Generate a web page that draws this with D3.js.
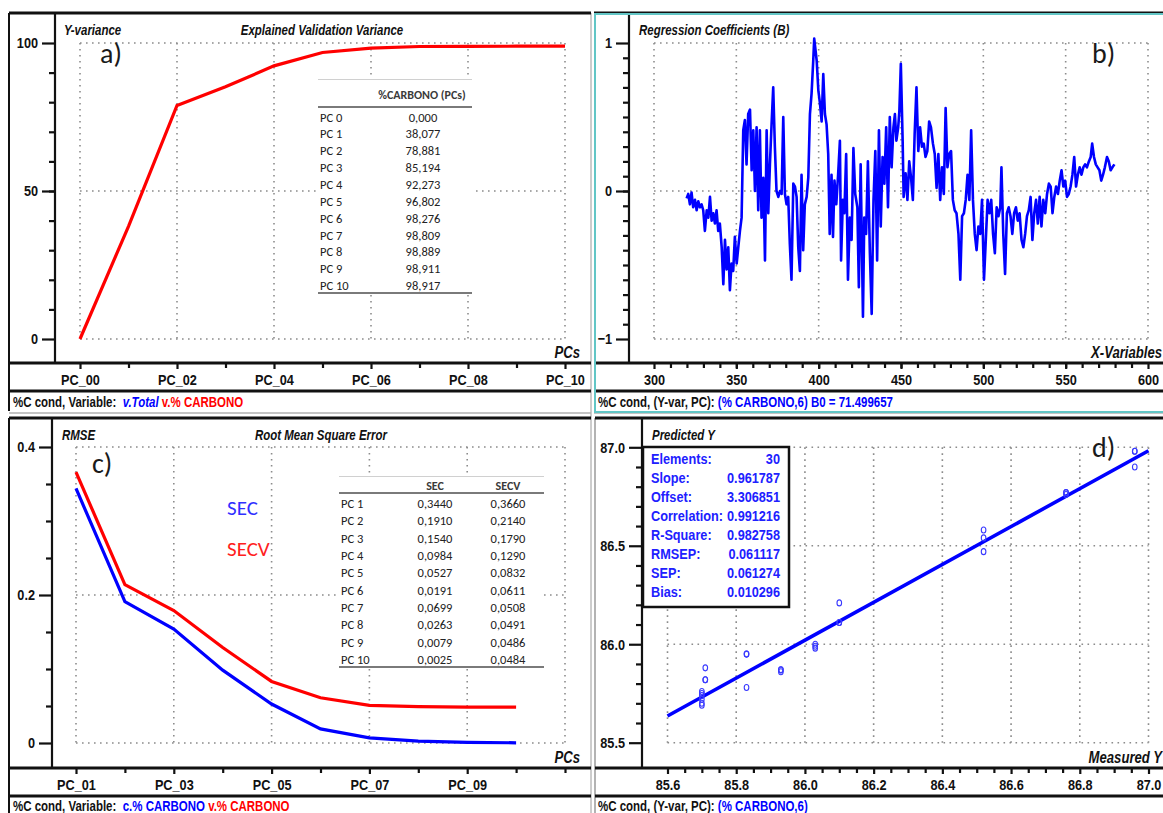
<!DOCTYPE html>
<html lang="en">
<head>
<meta charset="UTF-8" />
<title>PLS model %CARBONO</title>
<script src="https://d3js.org/d3.v7.min.js"></script>
<style>
  body { margin: 0; background: #fff; }
  svg { display: block; }
</style>
</head>
<body>
<script>
// ---- a) explained validation variance ----
var variancePCs = [0, 1, 2, 3, 4, 5, 6, 7, 8, 9, 10];
var varianceValues = [0, 38.077, 78.881, 85.194, 92.273, 96.802, 98.276, 98.809, 98.889, 98.911, 98.917];
var varianceRowLabels = ["PC 0", "PC 1", "PC 2", "PC 3", "PC 4", "PC 5", "PC 6", "PC 7", "PC 8", "PC 9", "PC 10"];
var varianceRowValues = ["0,000", "38,077", "78,881", "85,194", "92,273", "96,802", "98,276", "98,809", "98,889", "98,911", "98,917"];

// ---- b) regression coefficients (wavelength nm, B) ----
var coefWl = [
  319.8, 320.8, 321.8, 322.8, 323.8, 324.9, 325.9, 326.9, 327.9, 328.9,
  329.9, 330.9, 332.0, 333.0, 334.0, 335.0, 336.0, 337.0, 338.0, 339.0,
  340.0, 341.1, 342.1, 343.1, 344.1, 345.1, 346.1, 347.1, 348.1, 349.1,
  350.2, 351.2, 352.2, 353.2, 354.2, 355.2, 356.2, 357.2, 358.3, 359.3,
  360.3, 361.3, 362.3, 363.3, 364.3, 365.3, 366.4, 367.4, 368.4, 369.4,
  370.4, 371.4, 372.4, 373.4, 374.4, 375.5, 376.5, 377.5, 378.5, 379.5,
  380.5, 381.5, 382.5, 383.5, 384.6, 385.6, 386.6, 387.6, 388.6, 389.6,
  390.6, 391.6, 392.7, 393.7, 394.7, 395.7, 396.7, 397.3, 398.8, 399.8,
  400.8, 401.8, 402.8, 403.8, 404.8, 405.8, 406.7, 407.8, 408.7, 409.6,
  410.7, 411.8, 412.9, 413.6, 414.7, 415.6, 416.7, 417.8, 418.9, 420.0,
  421.1, 422.2, 423.5, 424.4, 425.5, 426.9, 427.7, 428.8, 429.9, 431.1,
  432.2, 433.3, 434.4, 435.5, 436.6, 437.7, 438.8, 439.9, 441.0, 442.1,
  443.2, 444.3, 445.4, 446.3, 447.2, 448.3, 449.0, 449.9, 451.0, 451.6,
  452.8, 453.9, 455.0, 456.1, 457.2, 458.3, 459.4, 460.5, 461.6, 462.7,
  463.8, 464.9, 466.0, 467.1, 468.2, 469.4, 470.5, 471.6, 472.7, 473.8,
  474.9, 476.0, 477.1, 478.2, 479.3, 480.4, 481.5, 482.6, 483.7, 484.9,
  486.0, 487.1, 488.2, 489.3, 490.4, 491.5, 492.6, 493.7, 494.8, 495.9,
  497.0, 498.1, 499.2, 500.4, 501.5, 502.6, 503.7, 504.8, 505.9, 507.0,
  508.1, 509.2, 510.3, 511.0, 512.1, 513.2, 514.3, 515.4, 516.5, 517.6,
  518.7, 519.8, 520.9, 522.0, 523.2, 524.3, 525.4, 526.5, 527.6, 528.7,
  529.8, 530.9, 532.0, 533.1, 534.2, 535.3, 536.4, 537.6, 538.7, 539.8,
  540.9, 542.0, 543.1, 544.2, 545.3, 546.4, 547.5, 548.6, 549.7, 550.8,
  551.9, 553.0, 554.1, 555.2, 556.3, 557.4, 558.5, 559.6, 560.7, 561.8,
  562.9, 564.1, 565.2, 566.1, 567.2, 568.3, 569.4, 570.5, 571.6, 572.7,
  573.8, 575.1, 576.2, 577.3, 578.4, 579.6
];
var coefValues = [
  -0.05, -0.02, -0.09, -0.01, -0.11, -0.06, -0.13, -0.07, -0.11, -0.09,
  -0.13, -0.27, -0.13, -0.18, -0.04, -0.20, -0.15, -0.22, -0.13, -0.27,
  -0.22, -0.38, -0.63, -0.33, -0.53, -0.38, -0.67, -0.49, -0.54, -0.31,
  -0.49, -0.38, -0.27, -0.18, 0.41, 0.48, 0.18, 0.52, 0.55, 0.14,
  0.41, 0.00, 0.43, -0.13, 0.41, -0.18, 0.09, -0.47, 0.41, -0.15,
  0.18, 0.45, 0.70, 0.30, 0.00, -0.04, 0.00, -0.02, 0.50, -0.02,
  -0.09, -0.04, -0.36, -0.60, 0.05, 0.03, -0.04, -0.38, -0.54, 0.11,
  -0.40, -0.09, -0.04, 0.09, 0.52, 0.66, 0.88, 1.03, 0.88, 0.68,
  0.59, 0.47, 0.79, 0.52, 0.45, 0.25, -0.29, 0.11, -0.31, 0.07,
  -0.09, 0.11, 0.34, -0.47, -0.06, -0.15, 0.25, -0.60, -0.18, -0.33,
  0.29, -0.02, -0.11, -0.65, 0.18, -0.85, -0.18, -0.29, 0.20, -0.42,
  -0.83, -0.06, 0.27, -0.47, 0.41, -0.24, 0.23, 0.05, 0.43, -0.11,
  0.50, 0.16, 0.43, 0.52, 0.34, 0.43, 0.54, 0.86, 0.34, -0.04,
  0.12, -0.06, 0.20, 0.09, -0.06, 0.39, 0.70, 0.27, 0.43, 0.30,
  0.32, 0.23, 0.27, 0.47, 0.43, 0.32, 0.25, 0.02, 0.25, -0.06,
  0.16, -0.02, 0.56, 0.16, 0.25, 0.27, -0.06, -0.13, -0.15, -0.29,
  -0.60, -0.17, -0.15, -0.06, 0.11, -0.06, 0.41, -0.06, -0.29, -0.40,
  -0.24, -0.29, -0.06, -0.60, -0.33, -0.06, -0.15, -0.06, -0.29, -0.42,
  -0.11, -0.17, -0.11, 0.16, -0.29, -0.56, -0.15, -0.11, -0.17, -0.29,
  -0.15, -0.11, -0.20, -0.15, -0.33, -0.38, -0.29, -0.17, -0.13, -0.04,
  -0.33, -0.15, -0.06, -0.22, -0.04, -0.24, -0.06, -0.15, -0.02, 0.05,
  0.03, -0.15, -0.04, 0.03, -0.02, 0.07, 0.14, 0.03, 0.07, -0.04,
  -0.02, 0.03, 0.11, 0.23, 0.03, 0.11, 0.16, 0.11, 0.16, 0.18,
  0.16, 0.20, 0.23, 0.32, 0.23, 0.18, 0.16, 0.14, 0.07, 0.11,
  0.16, 0.23, 0.20, 0.14, 0.16, 0.18
];

// ---- c) RMSE ----
var rmsePCs = [1, 2, 3, 4, 5, 6, 7, 8, 9, 10];
var secValues = [0.344, 0.191, 0.154, 0.0984, 0.0527, 0.0191, 0.0069, 0.0026, 0.0008, 0.0003];
var secvValues = [0.366, 0.214, 0.179, 0.129, 0.0832, 0.0611, 0.0508, 0.0491, 0.0486, 0.0484];
var rmseRowLabels = ["PC 1", "PC 2", "PC 3", "PC 4", "PC 5", "PC 6", "PC 7", "PC 8", "PC 9", "PC 10"];
var secRowValues = ["0,3440", "0,1910", "0,1540", "0,0984", "0,0527", "0,0191", "0,0699", "0,0263", "0,0079", "0,0025"];
var secvRowValues = ["0,3660", "0,2140", "0,1790", "0,1290", "0,0832", "0,0611", "0,0508", "0,0491", "0,0486", "0,0484"];

// ---- d) predicted vs measured ----
var measuredY = [85.70, 85.70, 85.70, 85.70, 85.70, 85.70, 85.71, 85.71, 85.71,
  85.83, 85.83, 85.83, 85.93, 85.93, 85.93, 86.03, 86.03, 86.03,
  86.10, 86.10, 86.10, 86.52, 86.52, 86.52, 86.76, 86.76, 86.76, 86.96, 86.96, 86.96];
var predictedY = [85.76, 85.74, 85.69, 85.72, 85.70, 85.75, 85.88, 85.82, 85.82,
  85.95, 85.78, 85.95, 85.87, 85.86, 85.87, 86.00, 85.98, 85.99,
  86.21, 86.11, 86.11, 86.58, 86.54, 86.47, 86.77, 86.76, 86.77, 86.98, 86.90, 86.98];
var statLabels = ["Elements:", "Slope:", "Offset:", "Correlation:", "R-Square:", "RMSEP:", "SEP:", "Bias:"];
var statValues = ["30", "0.961787", "3.306851", "0.991216", "0.982758", "0.061117", "0.061274", "0.010296"];
var fitSlope = 0.961787, fitOffset = 3.306851;

var w = 1163, h = 813;
// Arial Narrow look-alike: Liberation Sans squeezed horizontally
var NARROW = '"Liberation Sans", Arial, sans-serif';
var SQ = 0.82;
var CAL = 'Carlito, Calibri, Lato, "Open Sans", sans-serif';
var BLUE = "#0000ff", RED = "#ff0000", TEAL = "#62c6c6";

var svg = d3.select("body").append("svg")
    .attr("width", w)
    .attr("height", h);

function line(g, x1, y1, x2, y2, col, sw) {
    return g.append("line")
        .attr("x1", x1).attr("y1", y1).attr("x2", x2).attr("y2", y2)
        .attr("stroke", col).attr("stroke-width", sw);
}

function squeeze(t, x) {
    t.attr("x", x / SQ).attr("transform", "scale(" + SQ + ",1)");
}

function txt(g, x, y, s, size, opts) {
    opts = opts || {};
    var t = g.append("text")
        .attr("x", x).attr("y", y)
        .attr("font-family", opts.family || NARROW)
        .attr("font-size", size)
        .attr("font-weight", opts.weight || "bold")
        .attr("font-style", opts.italic ? "italic" : "normal")
        .attr("text-anchor", opts.anchor || "start")
        .attr("fill", opts.fill || "#111")
        .text(s);
    if (!opts.family) squeeze(t, x);
    return t;
}

// common pieces of one plot window
function drawPanel(p) {
    var g = svg.append("g");
    var xd = p.x.domain(), yd = p.y.domain();

    // dotted grid
    p.gridX.forEach(function(v) {
        line(g, p.x(v), p.y(yd[1]), p.x(v), p.y(yd[0]), "#8c8c8c", 1.6)
            .attr("stroke-dasharray", "1.6,4.4");
    });
    p.gridY.forEach(function(v) {
        line(g, p.x(xd[0]), p.y(v), p.x(xd[1]), p.y(v), "#8c8c8c", 1.6)
            .attr("stroke-dasharray", "1.6,4.4");
    });

    // y axis, major + minor ticks
    var yMaj = g.append("g").attr("transform", "translate(" + p.axisX + ",0)")
        .call(d3.axisLeft(p.y).tickValues(p.yMajor).tickSize(13).tickPadding(4).tickFormat(p.yFmt));
    var yMin = g.append("g").attr("transform", "translate(" + p.axisX + ",0)")
        .call(d3.axisLeft(p.y).tickValues(p.yMinor).tickSize(6).tickFormat(""));

    // x axis in the band under the plot
    var xMaj = g.append("g").attr("transform", "translate(0," + p.plotBottom + ")")
        .call(d3.axisBottom(p.x).tickValues(p.xMajor).tickSize(6).tickPadding(5).tickFormat(p.xFmt));
    var xMin = g.append("g").attr("transform", "translate(0," + p.plotBottom + ")")
        .call(d3.axisBottom(p.x).tickValues(p.xMinor).tickSize(5).tickFormat(""));

    [yMaj, yMin, xMaj, xMin].forEach(function(a) {
        a.select(".domain").remove();
        a.selectAll(".tick line").attr("stroke", "#111").attr("stroke-width", 2.2);
        a.selectAll("text")
            .attr("font-family", NARROW)
            .attr("font-weight", "bold")
            .attr("font-size", 15.5)
            .attr("fill", "#111")
            .each(function() {
                var t = d3.select(this);
                squeeze(t, +t.attr("x") || 0);
            });
    });

    // frame lines
    line(g, p.left, p.top, p.right, p.top, "#111", 3);
    line(g, p.axisX, p.top, p.axisX, p.plotBottom, "#111", 2.2);
    line(g, p.left, p.plotBottom, p.right, p.plotBottom, "#111", 3);
    line(g, p.left, p.bandBottom, p.right, p.bandBottom, "#111", 3);
    return g;
}

function footer(g, x, y, parts) {
    var t = g.append("text")
        .attr("y", y)
        .attr("font-family", NARROW)
        .attr("font-weight", "bold")
        .attr("font-size", 14);
    squeeze(t, x);
    parts.forEach(function(pt) {
        t.append("tspan")
            .attr("fill", pt[1])
            .attr("font-style", pt[2] ? "italic" : "normal")
            .attr("xml:space", "preserve")
            .text(pt[0]);
    });
}

// outer separators
var bg = svg.append("g");
line(bg, 591, 13, 591, 813, "#9a9a9a", 1);
line(bg, 9, 413, 591, 413, "#b0b0b0", 1.5);
line(bg, 594, 413, 1163, 413, "#b0b0b0", 1.5);
line(bg, 9, 13, 9, 411, "#111", 2);
line(bg, 9, 418, 9, 813, "#111", 2);
line(bg, 595, 418, 595, 813, "#9a9a9a", 1.5);

// ================= a) =================
var pa = {
    left: 9, right: 591, top: 13, plotBottom: 363, bandBottom: 391, axisX: 55,
    x: d3.scaleLinear().domain([0, 10]).range([80, 565]),
    y: d3.scaleLinear().domain([0, 100]).range([339, 43]),
    gridX: [0, 2, 4, 6, 8, 10], gridY: [0, 50, 100],
    xMajor: [0, 2, 4, 6, 8, 10], xMinor: [1, 3, 5, 7, 9],
    yMajor: [0, 50, 100], yMinor: d3.range(10, 100, 10),
    xFmt: function(d) { return "PC_" + d3.format("02d")(d); },
    yFmt: d3.format("d")
};
var ga = drawPanel(pa);

ga.append("path")
    .datum(variancePCs.map(function(d, i) { return [d, varianceValues[i]]; }))
    .attr("fill", "none")
    .attr("stroke", RED)
    .attr("stroke-width", 3.2)
    .attr("d", d3.line().x(function(d) { return pa.x(d[0]); }).y(function(d) { return pa.y(d[1]); }));

txt(ga, 64, 35, "Y-variance", 14, {italic: true});
txt(ga, 322, 35, "Explained Validation Variance", 14, {italic: true, anchor: "middle"});
txt(ga, 100, 63, "a)", 28, {family: CAL, weight: "normal", fill: "#1a1a1a"});
txt(ga, 580, 358, "PCs", 16, {italic: true, anchor: "end"});
footer(ga, 13, 407, [["%C cond, Variable:  ", "#111"], ["v.Total", BLUE, true], [" v.% CARBONO", RED]]);

// table a
var ta = ga.append("g");
ta.append("rect").attr("x", 318).attr("y", 79).attr("width", 154).attr("height", 214).attr("fill", "#fff");
line(ta, 318, 79.5, 472, 79.5, "#d0d0d0", 1);
line(ta, 318, 107, 472, 107, "#7a7a7a", 2);
line(ta, 318, 293, 472, 293, "#7a7a7a", 2);
txt(ta, 422, 99, "%CARBONO (PCs)", 12, {family: CAL, weight: "bold", anchor: "middle", fill: "#3a3a3a"});
ta.selectAll(".rl").data(varianceRowLabels).enter().append("text")
    .attr("x", 320)
    .attr("y", function(d, i) { return 121.5 + i * 16.86; })
    .attr("font-family", CAL).attr("font-size", 12.5).attr("fill", "#222")
    .text(function(d) { return d; });
ta.selectAll(".rv").data(varianceRowValues).enter().append("text")
    .attr("x", 423)
    .attr("y", function(d, i) { return 121.5 + i * 16.86; })
    .attr("text-anchor", "middle")
    .attr("font-family", CAL).attr("font-size", 12.5).attr("fill", "#222")
    .text(function(d) { return d; });

// ================= b) =================
var pb = {
    left: 594, right: 1163, top: 13, plotBottom: 363, bandBottom: 391, axisX: 629,
    x: d3.scaleLinear().domain([300, 600]).range([654, 1148]),
    y: d3.scaleLinear().domain([-1, 1]).range([339, 43]),
    gridX: [300, 350, 400, 450, 500, 550, 600], gridY: [-1, 0, 1],
    xMajor: [300, 350, 400, 450, 500, 550, 600], xMinor: d3.range(310, 600, 10),
    yMajor: [-1, 0, 1], yMinor: d3.range(-0.9, 0.95, 0.1),
    xFmt: d3.format("d"),
    yFmt: d3.format("d")
};
var gb = drawPanel(pb);

gb.append("path")
    .datum(coefValues)
    .attr("fill", "none")
    .attr("stroke", BLUE)
    .attr("stroke-width", 2.6)
    .attr("stroke-linejoin", "round")
    .attr("d", d3.line()
        .x(function(d, i) { return pb.x(coefWl[i]); })
        .y(function(d) { return pb.y(d); }));

txt(gb, 639, 35, "Regression Coefficients (B)", 14, {italic: true});
txt(gb, 1092, 63, "b)", 28, {family: CAL, weight: "normal", fill: "#1a1a1a"});
txt(gb, 1162, 358, "X-Variables", 16, {italic: true, anchor: "end"});
footer(gb, 598, 407, [["%C cond, (Y-var, PC): ", "#111"], ["(% CARBONO,6) B0 = 71.499657", BLUE]]);
gb.append("rect").attr("x", 595).attr("y", 14).attr("width", 600).attr("height", 398)
    .attr("fill", "none").attr("stroke", TEAL).attr("stroke-width", 2);

// ================= c) =================
var pc = {
    left: 9, right: 591, top: 418, plotBottom: 768, bandBottom: 796, axisX: 52,
    x: d3.scaleLinear().domain([1, 11]).range([76, 565]),
    y: d3.scaleLinear().domain([0, 0.4]).range([743, 447]),
    gridX: [1, 3, 5, 7, 9, 11], gridY: [0, 0.2, 0.4],
    xMajor: [1, 3, 5, 7, 9], xMinor: [2, 4, 6, 8, 10, 11],
    yMajor: [0, 0.2, 0.4], yMinor: [0.05, 0.1, 0.15, 0.25, 0.3, 0.35],
    xFmt: function(d) { return "PC_" + d3.format("02d")(d); },
    yFmt: function(d) { return d === 0 ? "0" : d3.format(".1f")(d); }
};
var gc = drawPanel(pc);

var rmseLine = d3.line()
    .x(function(d) { return pc.x(d[0]); })
    .y(function(d) { return pc.y(d[1]); });
gc.append("path")
    .datum(rmsePCs.map(function(d, i) { return [d, secvValues[i]]; }))
    .attr("fill", "none").attr("stroke", RED).attr("stroke-width", 3.2)
    .attr("d", rmseLine);
gc.append("path")
    .datum(rmsePCs.map(function(d, i) { return [d, secValues[i]]; }))
    .attr("fill", "none").attr("stroke", BLUE).attr("stroke-width", 3.2)
    .attr("d", rmseLine);

txt(gc, 62, 440, "RMSE", 14, {italic: true});
txt(gc, 321, 440, "Root Mean Square Error", 14, {italic: true, anchor: "middle"});
txt(gc, 92, 473, "c)", 28, {family: CAL, weight: "normal", fill: "#1a1a1a"});
txt(gc, 580, 763, "PCs", 16, {italic: true, anchor: "end"});
txt(gc, 227, 515, "SEC", 21, {family: CAL, weight: "normal", fill: "#3030ff"});
txt(gc, 227, 556, "SECV", 21, {family: CAL, weight: "normal", fill: "#ff2020"});
footer(gc, 13, 811, [["%C cond, Variable:  ", "#111"], ["c.% CARBONO", BLUE], [" v.% CARBONO", RED]]);

// table c
var tc = gc.append("g");
tc.append("rect").attr("x", 339).attr("y", 476).attr("width", 205).attr("height", 191).attr("fill", "#fff");
line(tc, 339, 476.5, 544, 476.5, "#d0d0d0", 1);
line(tc, 339, 493, 544, 493, "#7a7a7a", 2);
line(tc, 339, 667, 544, 667, "#7a7a7a", 2);
txt(tc, 435, 490, "SEC", 12, {family: CAL, weight: "bold", anchor: "middle", fill: "#3a3a3a"});
txt(tc, 508, 490, "SECV", 12, {family: CAL, weight: "bold", anchor: "middle", fill: "#3a3a3a"});
[[rmseRowLabels, 341, "start"], [secRowValues, 435, "middle"], [secvRowValues, 508, "middle"]].forEach(function(col) {
    tc.append("g").selectAll("text").data(col[0]).enter().append("text")
        .attr("x", col[1])
        .attr("y", function(d, i) { return 508 + i * 17.33; })
        .attr("text-anchor", col[2])
        .attr("font-family", CAL).attr("font-size", 12.5).attr("fill", "#222")
        .text(function(d) { return d; });
});

// ================= d) =================
var pd = {
    left: 595, right: 1163, top: 418, plotBottom: 768, bandBottom: 796, axisX: 642,
    x: d3.scaleLinear().domain([85.6, 87.0]).range([667.5, 1148.5]),
    y: d3.scaleLinear().domain([85.5, 87.0]).range([742.7, 447.3]),
    gridX: [85.6, 85.8, 86.0, 86.2, 86.4, 86.6, 86.8, 87.0], gridY: [85.5, 86.0, 86.5, 87.0],
    xMajor: [85.6, 85.8, 86.0, 86.2, 86.4, 86.6, 86.8, 87.0],
    xMinor: [85.65, 85.7, 85.75, 85.85, 85.9, 85.95, 86.05, 86.1, 86.15, 86.25, 86.3, 86.35,
             86.45, 86.5, 86.55, 86.65, 86.7, 86.75, 86.85, 86.9, 86.95],
    yMajor: [85.5, 86.0, 86.5, 87.0],
    yMinor: [85.6, 85.7, 85.8, 85.9, 86.1, 86.2, 86.3, 86.4, 86.6, 86.7, 86.8, 86.9],
    xFmt: d3.format(".1f"),
    yFmt: d3.format(".1f")
};
var gd = drawPanel(pd);

var xd0 = pd.x.domain();
gd.append("line")
    .attr("x1", pd.x(xd0[0])).attr("y1", pd.y(fitSlope * xd0[0] + fitOffset))
    .attr("x2", pd.x(xd0[1])).attr("y2", pd.y(fitSlope * xd0[1] + fitOffset))
    .attr("stroke", BLUE).attr("stroke-width", 3.6);

gd.selectAll(".pt").data(measuredY).enter().append("ellipse")
    .attr("cx", function(d) { return pd.x(d); })
    .attr("cy", function(d, i) { return pd.y(predictedY[i]); })
    .attr("rx", 2.3).attr("ry", 3)
    .attr("fill", "none").attr("stroke", "#3a3aff").attr("stroke-width", 1.1);

txt(gd, 652, 440, "Predicted Y", 14, {italic: true});
txt(gd, 1092, 457, "d)", 28, {family: CAL, weight: "normal", fill: "#1a1a1a"});
txt(gd, 1162, 763, "Measured Y", 16, {italic: true, anchor: "end"});
footer(gd, 598, 811, [["%C cond, (Y-var, PC): ", "#111"], ["(% CARBONO,6)", BLUE]]);

// statistics box
var sb = gd.append("g");
sb.append("rect").attr("x", 643).attr("y", 447).attr("width", 146).attr("height", 160)
    .attr("fill", "#fff").attr("stroke", "#111").attr("stroke-width", 2.5);
statLabels.forEach(function(d, i) {
    txt(sb, 651, 464 + i * 18.95, d, 15.5, {fill: "#2020ff"});
    txt(sb, 780, 464 + i * 18.95, statValues[i], 15.5, {fill: "#2020ff", anchor: "end"});
});
</script>
</body>
</html>
